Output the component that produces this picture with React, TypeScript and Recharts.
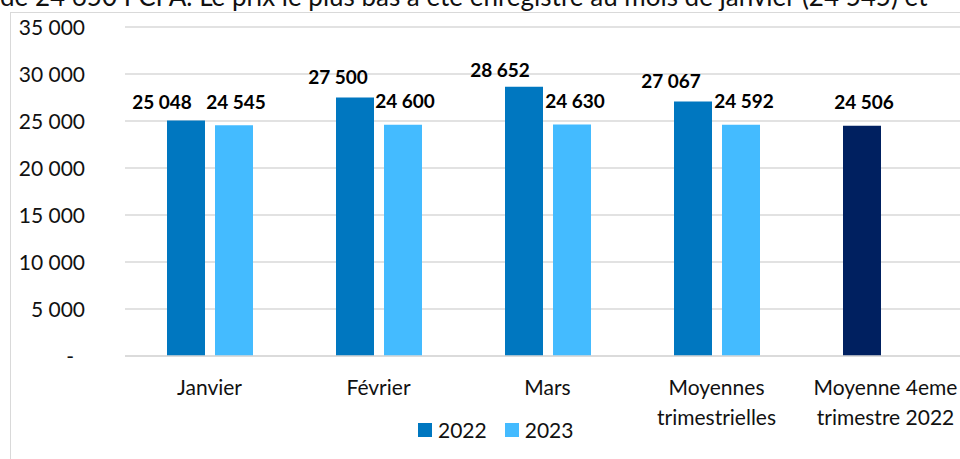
import {
	Bar,
	BarChart,
	CartesianGrid,
	Cell,
	LabelList,
	Legend,
	XAxis,
	YAxis,
} from "recharts";

const categories = [
	"Janvier",
	"Février",
	"Mars",
	"Moyennes\ntrimestrielles",
	"Moyenne 4eme\ntrimestre 2022",
];
const values2022 = [25048, 27500, 28652, 27067, 24506];
const values2023: (number | null)[] = [24545, 24600, 24630, 24592, null];
const yTicks = [0, 5000, 10000, 15000, 20000, 25000, 30000, 35000];

const caption =
	"de 24 650 FCFA. Le prix le plus bas a été enregistré au mois de janvier (24 545) et";

// hand-placed label offsets, as in the source sheet
const nudge2022 = [
	{ dx: -24, dy: -19 },
	{ dx: -17, dy: -21 },
	{ dx: -24, dy: -17 },
	{ dx: -22, dy: -21 },
	{ dx: 2, dy: -24 },
];
const nudge2023 = [
	{ dx: 2, dy: -23 },
	{ dx: 2, dy: -24 },
	{ dx: 3, dy: -23 },
	{ dx: 3, dy: -24 },
	{ dx: 0, dy: 0 },
];

const FONT = "Lato, 'Open Sans', sans-serif";
const C2022 = "#0077C0";
const C2023 = "#44BBFF";
const CDARK = "#002060";

const data = categories.map((name, i) => ({
	name,
	y2022: values2022[i],
	y2023: values2023[i],
}));

const fmt = (v: number) => {
	if (v === 0) return "-";
	const k = Math.floor(v / 1000);
	return k > 0 ? `${k} ${String(v % 1000).padStart(3, "0")}` : String(v);
};

function YTick({ x, y, payload }: any) {
	const v = payload.value as number;
	return (
		<text x={x} y={y} dy={7.5} dx={v === 0 ? -11 : 0} textAnchor="end" fontFamily={FONT} fontSize={21} fill="#111">
			{fmt(v)}
		</text>
	);
}

function XTick({ x, y, payload }: any) {
	const lines = String(payload.value).split("\n");
	return (
		<text x={x} y={y} textAnchor="middle" fontFamily={FONT} fontSize={21} fill="#111">
			{lines.map((l, i) => (
				<tspan key={i} x={x} dy={i === 0 ? 38.5 : 30}>
					{l}
				</tspan>
			))}
		</text>
	);
}

const makeLabel = (nudge: { dx: number; dy: number }[]) => (p: any) => {
	if (p.value == null) return null;
	const n = nudge[p.index] ?? { dx: 0, dy: -20 };
	return (
		<text
			x={p.x + p.width / 2 + n.dx}
			y={p.y + n.dy + 7}
			textAnchor="middle"
			fontFamily={FONT}
			fontSize={19}
			fontWeight={700}
			fill="#000"
		>
			{fmt(p.value)}
		</text>
	);
};

function LegendBox() {
	const sq = (c: string) => (
		<span style={{ display: "inline-block", width: 14, height: 14, background: c, marginRight: 6 }} />
	);
	return (
		<div style={{ display: "flex", alignItems: "center", fontFamily: FONT, fontSize: 21, lineHeight: "21px", color: "#111" }}>
			{sq(C2022)}
			<span>2022</span>
			<span style={{ width: 18 }} />
			{sq(C2023)}
			<span>2023</span>
		</div>
	);
}

export default function App() {
	return (
		<div style={{ position: "fixed", left: 0, top: 0, width: 960, height: 459, overflow: "hidden", background: "#fff" }}>
			<div style={{ position: "absolute", left: 0, top: 0, width: 960, height: 12, overflow: "hidden" }}>
				<div
					style={{
						position: "absolute",
						left: 0,
						top: -16.6,
						fontFamily: FONT,
						fontSize: 26,
						lineHeight: "26px",
						whiteSpace: "nowrap",
						color: "#111",
					}}
				>
					{caption}
				</div>
			</div>
			<div
				style={{
					position: "absolute",
					left: 10,
					top: 12,
					width: 1100,
					height: 600,
					borderLeft: "1px solid #d9d9d9",
					borderTop: "1px solid #d9d9d9",
				}}
			/>
			<div style={{ position: "absolute", left: 0, top: 0 }}>
				<BarChart
					width={1000}
					height={459}
					data={data}
					margin={{ top: 27, right: 30, bottom: 0, left: 0 }}
					barSize={38}
					barGap={10}
				>
					<CartesianGrid vertical={false} stroke="#d9d9d9" strokeWidth={1.5} />
					<XAxis
						dataKey="name"
						height={103}
						tickLine={false}
						tickSize={0}
						tickMargin={0}
						axisLine={{ stroke: "#d9d9d9", strokeWidth: 1.5 }}
						tick={<XTick />}
						interval={0}
					/>
					<YAxis
						width={125}
						domain={[0, 35000]}
						ticks={yTicks}
						axisLine={false}
						tickLine={false}
						tickSize={0}
						tickMargin={40}
						tick={<YTick />}
						interval={0}
					/>
					<Legend
						layout="horizontal"
						verticalAlign="middle"
						align="center"
						wrapperStyle={{ left: 418, top: 419, width: 200 }}
						content={() => <LegendBox />}
					/>
					<Bar dataKey="y2022" name="2022" fill={C2022} isAnimationActive={false}>
						{data.map((_, i) => (
							<Cell key={i} fill={i === 4 ? CDARK : C2022} />
						))}
						<LabelList dataKey="y2022" content={makeLabel(nudge2022)} />
					</Bar>
					<Bar dataKey="y2023" name="2023" fill={C2023} isAnimationActive={false}>
						<LabelList dataKey="y2023" content={makeLabel(nudge2023)} />
					</Bar>
				</BarChart>
			</div>
		</div>
	);
}
